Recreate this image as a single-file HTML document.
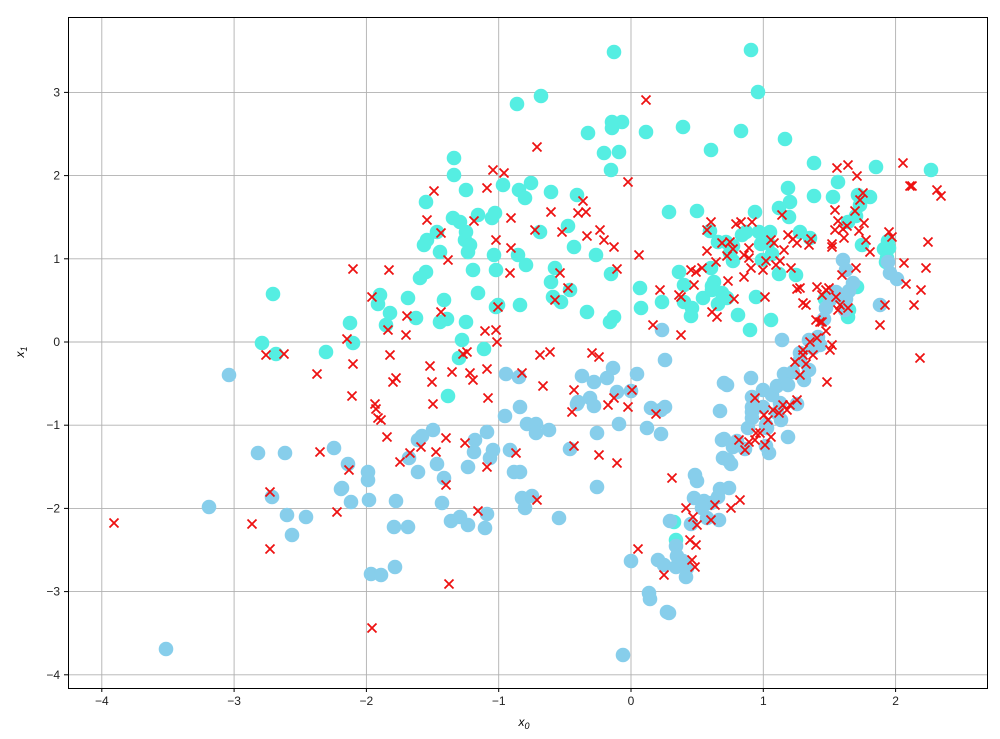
<!DOCTYPE html>
<html><head><meta charset="utf-8"><style>
body{margin:0;background:#fff;}
svg{display:block;font-family:"Liberation Sans",sans-serif;}
</style></head><body>
<svg id="s" width="1000" height="739" xmlns="http://www.w3.org/2000/svg">
<rect width="1000" height="739" fill="#fff"/>
<g id="grid" stroke="#b0b0b0" stroke-width="0.9"></g>
<g id="tur" fill="#55EEE2"></g>
<g id="lb" fill="#87CEEB"></g>
<g id="rx" stroke="#ee1111" stroke-width="1.8"></g>
<rect x="68.5" y="17.5" width="919" height="671" fill="none" stroke="#000" stroke-width="1"/>
<g id="ticks" font-size="12" fill="#222"></g>
<text x="524" y="726" font-size="12" font-style="italic" text-anchor="middle">x<tspan font-size="9" dy="3">0</tspan></text>
<text transform="translate(24,352) rotate(-90)" font-size="12" font-style="italic" text-anchor="middle">x<tspan font-size="9" dy="3">1</tspan></text>
</svg>
<script>
var NS="http://www.w3.org/2000/svg";
function el(p,t,a,txt){var e=document.createElementNS(NS,t);for(var k in a)e.setAttribute(k,a[k]);if(txt!=null)e.textContent=txt;document.getElementById(p).appendChild(e);}
for(var v=-4;v<=2;v++){var x=631+132.3*v;el("grid","line",{x1:x,x2:x,y1:17,y2:688});el("ticks","line",{x1:x,x2:x,y1:688,y2:692,stroke:"#000"});el("ticks","text",{x:x,y:705,"text-anchor":"middle"},v<0?"\u2212"+(-v):""+v);}
for(var v=-4;v<=3;v++){var y=342-83.2*v;el("grid","line",{x1:68,x2:987,y1:y,y2:y});el("ticks","line",{x1:64,x2:68,y1:y,y2:y,stroke:"#000"});el("ticks","text",{x:60,y:y+4,"text-anchor":"end"},v<0?"\u2212"+(-v):""+v);}
var T=[[614,52],[751,50],[758,92],[541,96],[517,104],[612,122],[622,122],[612,128],[683,127],[646,132],[741,131],[588,133],[619,152],[604,153],[785,139],[711,150],[454,158],[814,163],[876,167],[931,170],[454,175],[531,183],[503,185],[519,190],[611,170],[466,190],[551,192],[577,195],[525,198],[426,202],[838,182],[788,188],[790,202],[833,197],[860,205],[478,215],[492,218],[495,213],[453,218],[460,222],[466,232],[540,232],[437,232],[427,240],[424,245],[465,240],[470,245],[568,226],[669,212],[697,211],[789,217],[770,232],[746,232],[710,231],[718,242],[726,242],[761,244],[742,235],[768,243],[800,232],[810,238],[848,222],[856,216],[862,245],[888,241],[884,249],[889,248],[886,262],[762,260],[772,254],[711,268],[733,261],[779,274],[796,275],[714,282],[679,272],[684,285],[712,286],[703,298],[718,304],[722,293],[727,298],[756,297],[684,302],[692,308],[691,316],[771,320],[750,330],[738,315],[825,299],[845,300],[849,310],[848,317],[887,258],[440,252],[468,252],[494,255],[518,255],[526,265],[473,270],[426,272],[555,268],[551,282],[561,302],[553,297],[611,274],[641,308],[587,312],[614,317],[610,322],[520,305],[498,305],[444,300],[408,298],[466,322],[440,322],[447,319],[416,318],[390,313],[380,295],[378,304],[273,294],[262,343],[326,352],[353,343],[276,354],[350,323],[459,358],[462,340],[448,396],[484,349],[420,278],[496,270],[570,290],[640,288],[662,302],[596,255],[574,247],[496,307],[386,325],[478,293],[870,197],[857,287],[858,195],[814,196],[755,212],[779,208],[712,290],[674,522],[676,540],[733,246],[759,232],[730,253]];
var L=[[166,649],[209,507],[272,497],[258,453],[285,453],[287,515],[292,535],[306,517],[334,448],[348,464],[342,488],[341,489],[351,502],[368,472],[368,480],[369,500],[371,574],[381,575],[395,567],[394,527],[396,501],[418,472],[408,527],[409,458],[418,440],[422,436],[433,430],[437,464],[444,478],[442,503],[451,521],[468,467],[475,440],[474,452],[460,517],[468,525],[485,528],[487,514],[487,432],[490,458],[493,450],[510,450],[514,472],[505,416],[506,374],[519,377],[520,407],[520,472],[522,498],[525,508],[532,496],[527,424],[536,424],[536,433],[549,430],[559,518],[570,449],[577,404],[590,398],[578,402],[582,376],[594,382],[594,406],[597,433],[607,378],[613,368],[617,392],[619,424],[631,391],[637,374],[597,487],[647,428],[651,408],[661,410],[665,407],[665,360],[661,434],[662,330],[631,561],[649,593],[650,599],[658,560],[664,565],[667,612],[676,567],[670,521],[676,546],[691,524],[677,556],[683,561],[687,568],[686,577],[694,498],[695,475],[697,481],[704,501],[711,503],[718,497],[720,489],[720,411],[722,440],[723,458],[728,460],[733,447],[724,439],[727,385],[724,383],[751,378],[752,397],[752,407],[752,418],[763,390],[763,407],[766,425],[766,446],[769,453],[767,428],[772,395],[777,386],[780,403],[784,374],[782,340],[788,385],[793,372],[797,404],[800,360],[800,353],[804,380],[809,370],[809,340],[813,348],[820,345],[826,308],[824,319],[830,300],[849,291],[845,310],[838,295],[843,260],[846,270],[880,305],[890,273],[897,279],[888,262],[853,283],[846,299],[836,292],[818,337],[788,437],[777,413],[781,420],[752,412],[748,428],[745,449],[737,441],[731,464],[729,488],[719,520],[707,518],[702,508],[623,655],[669,613],[229,375]];
var R=[[114,523],[252,524],[270,549],[270,492],[266,355],[284,354],[317,374],[320,452],[337,512],[347,339],[353,364],[352,396],[353,269],[349,470],[372,297],[372,628],[375,404],[376,409],[378,418],[381,420],[387,437],[389,270],[388,330],[390,355],[393,382],[396,378],[400,462],[406,335],[407,316],[410,453],[421,447],[427,220],[430,366],[432,382],[433,404],[436,452],[434,191],[441,233],[441,312],[446,438],[446,485],[448,260],[449,584],[452,372],[463,354],[465,443],[467,352],[470,373],[473,380],[474,221],[478,511],[485,331],[487,369],[487,467],[487,188],[488,398],[493,170],[496,240],[496,330],[497,342],[498,307],[504,173],[510,273],[511,248],[511,218],[516,453],[522,373],[535,230],[537,500],[537,147],[540,355],[543,386],[551,212],[555,300],[550,352],[560,273],[562,232],[568,288],[572,412],[574,446],[574,390],[578,213],[583,201],[586,212],[587,236],[592,353],[599,357],[600,230],[604,240],[608,405],[614,247],[617,463],[617,269],[628,182],[628,407],[632,390],[638,549],[646,100],[639,255],[653,325],[656,414],[660,290],[664,575],[672,478],[679,295],[681,297],[681,335],[686,508],[691,270],[694,285],[696,272],[702,268],[707,251],[707,230],[711,222],[712,312],[716,262],[717,317],[722,243],[727,256],[730,242],[733,249],[728,281],[736,224],[741,222],[744,255],[734,299],[749,248],[744,277],[749,258],[751,268],[752,222],[755,398],[755,440],[765,445],[756,433],[763,270],[765,297],[766,261],[771,240],[774,243],[776,265],[780,261],[782,215],[784,250],[788,235],[793,239],[791,268],[797,243],[797,289],[800,288],[803,303],[806,305],[809,245],[811,239],[817,287],[822,295],[826,290],[829,288],[832,247],[837,168],[835,230],[838,221],[843,229],[848,308],[848,165],[855,211],[857,176],[860,200],[863,193],[870,252],[880,325],[885,305],[889,232],[892,237],[904,263],[906,284],[914,305],[920,358],[926,268],[928,242],[941,196],[903,163],[912,186],[937,190],[921,290],[910,186],[740,500],[731,508],[715,505],[711,520],[697,525],[693,517],[690,540],[692,560],[695,567],[696,545],[739,440],[745,450],[749,442],[760,433],[764,415],[768,420],[771,437],[773,410],[779,413],[783,405],[787,410],[790,405],[797,400],[800,375],[803,350],[803,355],[806,364],[810,342],[813,355],[817,338],[816,320],[822,322],[826,331],[830,350],[832,345],[838,310],[836,297],[840,305],[866,240],[864,223],[859,231],[856,268],[842,275],[844,238],[835,210],[832,244],[847,226],[820,322],[827,382],[795,362],[599,455],[614,398]];
T.forEach(function(p){el("tur","circle",{cx:p[0],cy:p[1],r:7.3});});
L.forEach(function(p){el("lb","circle",{cx:p[0],cy:p[1],r:7.3});});
R.forEach(function(p){var x=p[0],y=p[1],d=4.5;el("rx","path",{d:"M"+(x-d)+" "+(y-d)+"L"+(x+d)+" "+(y+d)+"M"+(x-d)+" "+(y+d)+"L"+(x+d)+" "+(y-d)});});
</script>
</body></html>
